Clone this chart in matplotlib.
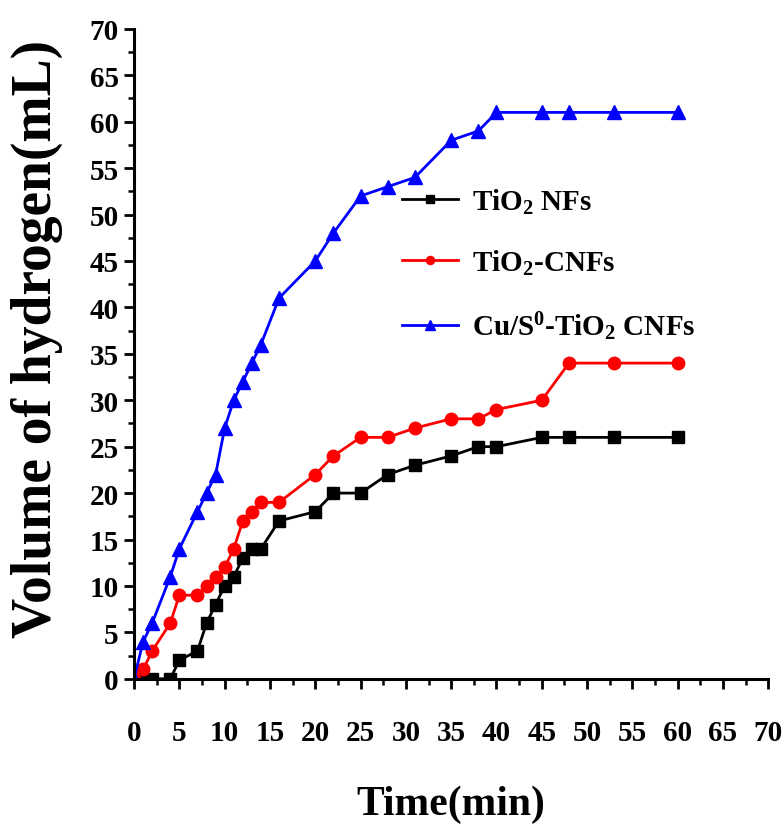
import matplotlib
matplotlib.use("Agg")
import matplotlib.pyplot as plt
from matplotlib.ticker import MultipleLocator

plt.rcParams['font.family'] = ['Liberation Serif', 'DejaVu Serif']
plt.rcParams['font.weight'] = 'bold'
plt.rcParams['mathtext.fontset'] = 'custom'
plt.rcParams['mathtext.rm'] = 'Liberation Serif:bold'
plt.rcParams['mathtext.bf'] = 'Liberation Serif:bold'
plt.rcParams['mathtext.default'] = 'rm'

# sampling times (min)
time = [0, 1, 2, 4, 5, 7, 8, 9, 10, 11, 12, 13, 14, 16, 20, 22, 25, 28, 31, 35, 38, 40, 45, 48, 53, 60]

# hydrogen volume (mL)
tio2_nfs = [0, 0, 0, 0, 2, 3, 6, 8, 10, 11, 13, 14, 14, 17, 18, 20, 20, 22, 23, 24, 25, 25, 26, 26, 26, 26]
tio2_cnfs = [0, 1, 3, 6, 9, 9, 10, 11, 12, 14, 17, 18, 19, 19, 22, 24, 26, 26, 27, 28, 28, 29, 30, 34, 34, 34]
cus_tio2_cnfs = [0, 4, 6, 11, 14, 18, 20, 22, 27, 30, 32, 34, 36, 41, 45, 48, 52, 53, 54, 58, 59, 61, 61, 61, 61, 61]

labels = [r'TiO$_2$ NFs', r'TiO$_2$-CNFs', r'Cu/S$^0$-TiO$_2$ CNFs']

fig = plt.figure(figsize=(7.84, 8.29), dpi=100)
ax = fig.add_axes([0.171, 0.180, 0.809, 0.784])

ax.plot(time, tio2_nfs, color='black', lw=2, marker='s', ms=8, label=labels[0])
ax.plot(time, tio2_cnfs, color='red', lw=2, marker='o', ms=9, label=labels[1])
ax.plot(time, cus_tio2_cnfs, color='blue', lw=2, marker='^', ms=10, label=labels[2])

ax.set_xlim(0, 70)
ax.set_ylim(0, 70)
ax.xaxis.set_major_locator(MultipleLocator(5))
ax.xaxis.set_minor_locator(MultipleLocator(2.5))
ax.yaxis.set_major_locator(MultipleLocator(5))
ax.yaxis.set_minor_locator(MultipleLocator(2.5))

ax.spines['top'].set_visible(False)
ax.spines['right'].set_visible(False)
ax.spines['left'].set_linewidth(2.2)
ax.spines['bottom'].set_linewidth(2.2)

ax.tick_params(axis='both', which='major', direction='out', length=7, width=2, labelsize=21)
ax.tick_params(axis='both', which='minor', direction='out', length=4, width=1.8)
ax.tick_params(axis='x', which='major', pad=22)
ax.tick_params(axis='y', which='major', pad=4)

ax.set_xlabel('Time(min)', fontsize=30, fontweight='bold', labelpad=28)
ax.set_ylabel('Volume of hydrogen(mL)', fontsize=40, fontweight='bold')
ax.yaxis.set_label_coords(-0.112, 0.525)

ax.legend(loc='upper left', bbox_to_anchor=(0.40, 0.78), frameon=False, fontsize=21,
          handlelength=1.9, handletextpad=0.5, labelspacing=1.1, markerscale=0.65,
          borderpad=0)

fig.savefig('out.png', dpi=100)
